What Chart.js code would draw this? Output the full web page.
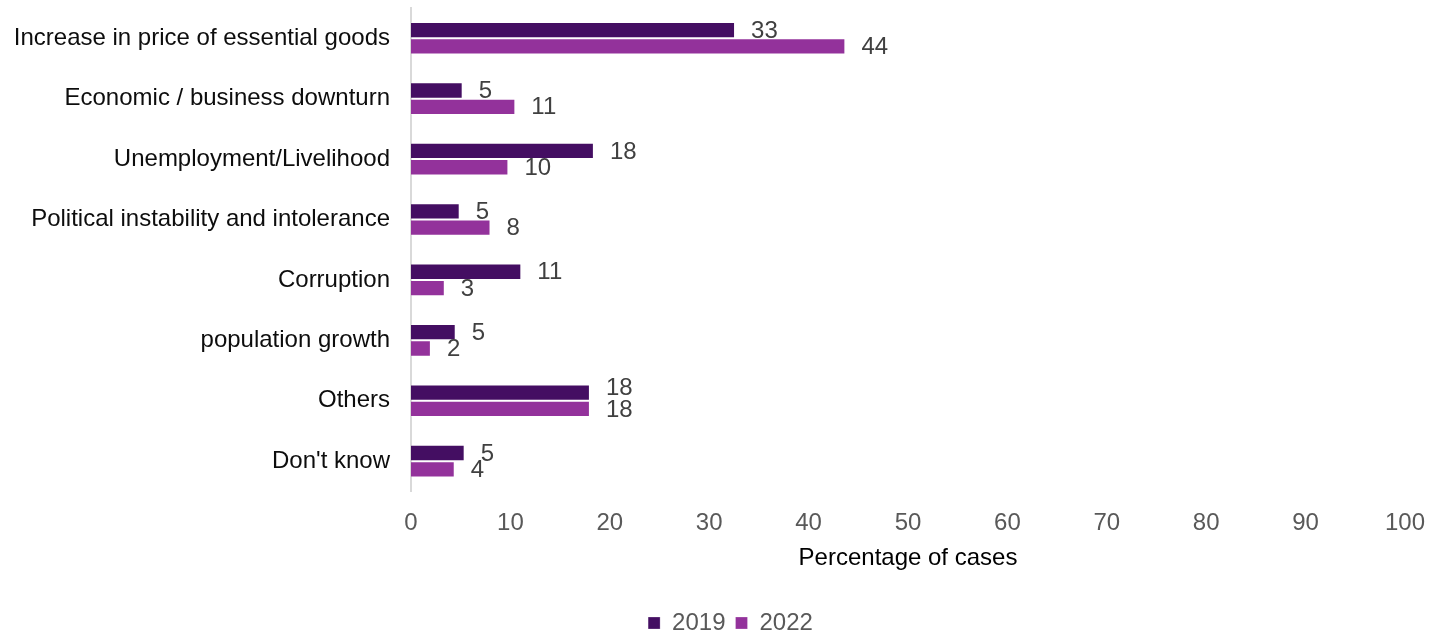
<!DOCTYPE html>
<html>
<head>
<meta charset="utf-8">
<script src="https://cdn.jsdelivr.net/npm/chart.js@4.4.0/dist/chart.umd.min.js"></script>
<style>
    html, body { margin: 0; padding: 0; background: #ffffff; }
    #wrap { width: 1432px; height: 632px; }
</style>
</head>
<body>
<div id="wrap"><canvas id="cases-chart"></canvas></div>
<script>
// --- DATA ---
const categories = [
    'Increase in price of essential goods',
    'Economic / business downturn',
    'Unemployment/Livelihood',
    'Political instability and intolerance',
    'Corruption',
    'population growth',
    'Others',
    "Don't know"
];
const values2019 = [32.6, 5.2, 18.4, 4.9, 11.1, 4.5, 18.0, 5.4];
const values2022 = [43.7, 10.5, 9.8, 8.0, 3.4, 2.0, 18.0, 4.4];
const xTicks = [0, 10, 20, 30, 40, 50, 60, 70, 80, 90, 100];

const FONT = '"Liberation Sans", Arial, sans-serif';

// --- PLUGINS ---
// draws the rounded value to the right of each bar
const barValueLabels = {
    id: 'barValueLabels',
    afterDatasetsDraw(chart) {
        const ctx = chart.ctx;
        const first = chart.getDatasetMeta(0).data;
        const second = chart.getDatasetMeta(1).data;
        ctx.save();
        ctx.font = '24px ' + FONT;
        ctx.fillStyle = '#404040';
        ctx.textAlign = 'left';
        ctx.textBaseline = 'middle';
        chart.data.datasets.forEach((ds, i) => {
            const meta = chart.getDatasetMeta(i);
            meta.data.forEach((bar, j) => {
                let y = bar.y + 1;
                // push the upper label up when both labels sit on top of each other
                if (i === 0 && Math.abs(first[j].x - second[j].x) < 4) y -= 5;
                ctx.fillText(String(Math.round(ds.data[j])), bar.x + 16, y);
            });
        });
        ctx.restore();
    }
};

// legend sits a bit right of the canvas centre
const shiftLegend = {
    id: 'shiftLegend',
    afterLayout(chart) {
        chart.legend.left += 56;
    }
};

// no auto padding from tick label overflow
function noScalePadding(scale) {
    scale.paddingTop = 0;
    scale.paddingBottom = 0;
    scale.paddingLeft = 0;
    scale.paddingRight = 0;
}

// --- CHART ---
new Chart(document.getElementById('cases-chart'), {
    type: 'bar',
    data: {
        labels: categories,
        datasets: [
            { label: '2019', data: values2019, backgroundColor: '#440e62', borderColor: 'rgba(255,255,255,0.25)', borderWidth: 1 },
            { label: '2022', data: values2022, backgroundColor: '#93329b', borderColor: 'rgba(255,255,255,0.25)', borderWidth: 1 }
        ]
    },
    options: {
        indexAxis: 'y',
        responsive: true,
        maintainAspectRatio: false,
        animation: false,
        datasets: { bar: { barPercentage: 1, categoryPercentage: 0.54 } },
        layout: { padding: { top: 8, left: 0, right: 27, bottom: -13 } },
        scales: {
            x: {
                min: 0,
                max: 100,
                afterBuildTicks: scale => { scale.ticks = xTicks.map(v => ({ value: v })); },
                afterFit: noScalePadding,
                grid: { display: false, drawTicks: false },
                border: { display: false },
                ticks: { color: '#595959', font: { family: FONT, size: 24 }, padding: 18, maxRotation: 0 },
                title: { display: true, text: 'Percentage of cases', color: '#000000', font: { family: FONT, size: 24 }, padding: { top: -12, bottom: 28 } }
            },
            y: {
                afterFit: scale => { scale.width = 411; noScalePadding(scale); },
                grid: { display: false, drawTicks: false },
                border: { display: true, color: '#d9d9d9', width: 2 },
                ticks: { color: '#0d0d0d', font: { family: FONT, size: 24 }, padding: 21 }
            }
        },
        plugins: {
            legend: {
                position: 'bottom',
                labels: { boxWidth: 12, boxHeight: 12, color: '#595959', font: { family: FONT, size: 24 }, padding: 10 }
            },
            tooltip: { enabled: false }
        }
    },
    plugins: [barValueLabels, shiftLegend]
});
</script>
</body>
</html>
